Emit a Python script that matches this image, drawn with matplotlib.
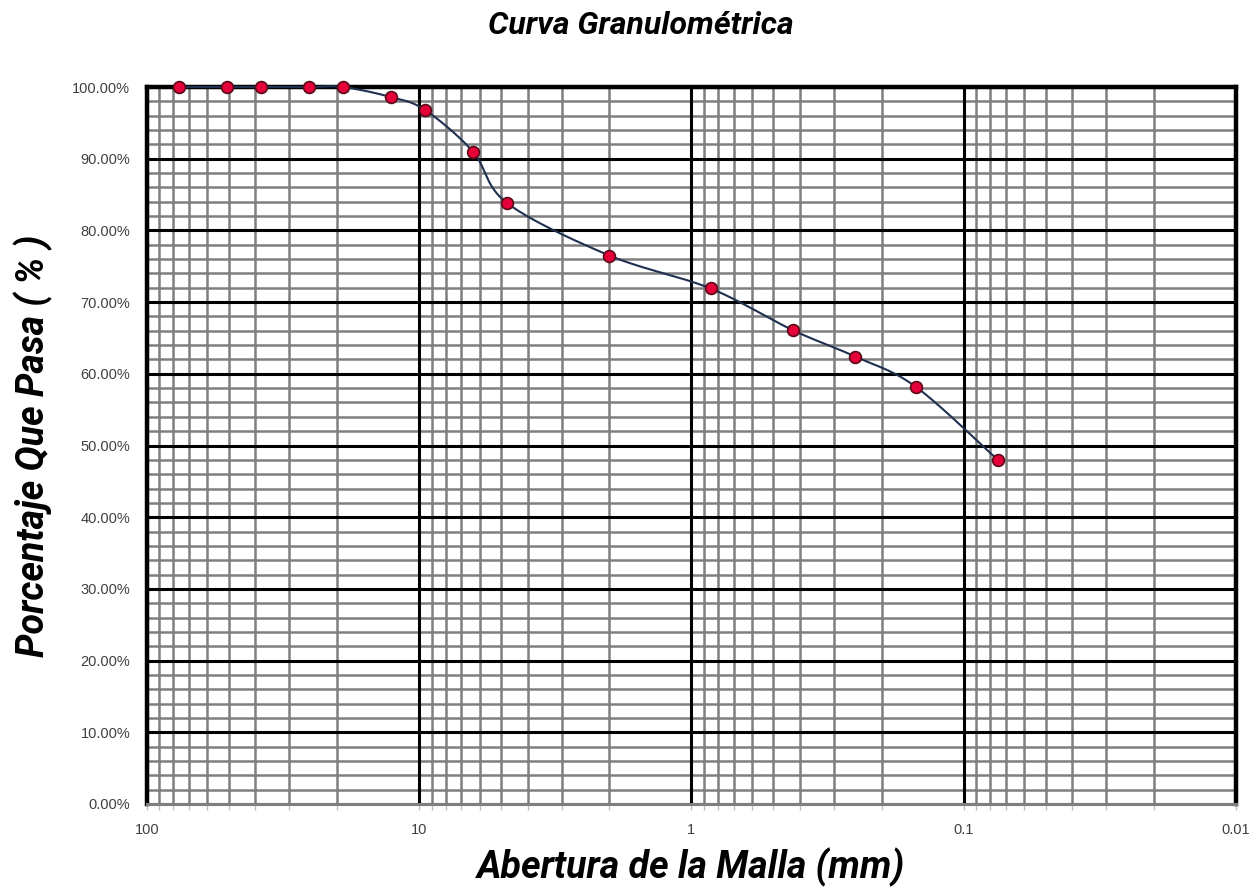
import numpy as np
import matplotlib.pyplot as plt
from matplotlib.ticker import FixedLocator, FuncFormatter, LogLocator, NullFormatter

# Sieve openings (mm) and cumulative percent passing
abertura = [76.2, 50.8, 38.1, 25.4, 19.05, 12.7, 9.525, 6.35, 4.75,
            2.00, 0.85, 0.425, 0.25, 0.15, 0.075]
pasa = [100.0, 100.0, 100.0, 100.0, 100.0, 98.6, 96.8, 91.0, 83.8,
        76.5, 71.9, 66.1, 62.4, 58.2, 48.0]

x_ticks = [100, 10, 1, 0.1, 0.01]
x_tick_labels = ["100", "10", "1", "0.1", "0.01"]
y_major = list(range(0, 101, 10))
y_minor = list(range(0, 101, 2))


def suavizar(xs, ys, n=40):
    # Bezier smoothing (Catmull-Rom style) in log-x / linear-y space
    u = -np.log10(np.array(xs)) * 272.0
    v = -np.array(ys) * 7.17
    pts = np.column_stack([u, v])
    out = [pts[0]]
    for i in range(len(pts) - 1):
        p0 = pts[i - 1] if i > 0 else pts[i]
        p1 = pts[i]
        p2 = pts[i + 1]
        p3 = pts[i + 2] if i + 2 < len(pts) else pts[i + 1]
        c1 = p1 + (p2 - p0) / 6.0
        c2 = p2 - (p3 - p1) / 6.0
        t = np.linspace(0, 1, n)[1:, None]
        seg = ((1 - t) ** 3 * p1 + 3 * (1 - t) ** 2 * t * c1
               + 3 * (1 - t) * t ** 2 * c2 + t ** 3 * p2)
        out.extend(seg)
    out = np.array(out)
    return 10 ** (-out[:, 0] / 272.0), -out[:, 1] / 7.17


fig = plt.figure(figsize=(12.56, 8.88), dpi=100)
ax = fig.add_axes([0.117, 0.0946, 0.867, 0.8074])

ax.set_xscale("log")
ax.set_xlim(100, 0.01)
ax.set_ylim(0, 100)

ax.xaxis.set_major_locator(FixedLocator(x_ticks))
ax.xaxis.set_minor_locator(LogLocator(base=10, subs=np.arange(2, 10)))
ax.xaxis.set_major_formatter(FuncFormatter(
    lambda v, p: x_tick_labels[x_ticks.index(v)] if v in x_ticks else ""))
ax.xaxis.set_minor_formatter(NullFormatter())
ax.yaxis.set_major_locator(FixedLocator(y_major))
ax.yaxis.set_major_formatter(FuncFormatter(lambda v, p: f"{v:.2f}%"))

# grid: grey minor lines first, black decade / 10 % lines on top
for d in x_ticks[1:]:
    for s in range(2, 10):
        ax.axvline(d * s, color="#7f7f7f", lw=1.8, zorder=1)
for yv in y_minor:
    ax.axhline(yv, color="#7f7f7f", lw=1.8, zorder=1)
for xv in x_ticks:
    ax.axvline(xv, color="black", lw=2.2, zorder=1.5)
for yv in y_major:
    ax.axhline(yv, color="black", lw=2.2, zorder=1.5)

for side in ["left", "top", "right"]:
    ax.spines[side].set_color("black")
    ax.spines[side].set_linewidth(3.2)
ax.spines["bottom"].set_color("#7f7f7f")
ax.spines["bottom"].set_linewidth(2.2)
for sp in ax.spines.values():
    sp.set_zorder(2)

ax.tick_params(axis="x", which="both", length=4, color="#bfbfbf", width=1,
               labelsize=10.5, labelcolor="#404040", pad=10)
ax.tick_params(axis="y", which="both", length=0, labelsize=10.5,
               labelcolor="#404040", pad=12)
for lab in ax.get_xticklabels() + ax.get_yticklabels():
    lab.set_family("Liberation Sans")

xs, ys = suavizar(abertura, pasa)
ax.plot(xs, ys, color="#1f3050", lw=1.5, zorder=3, clip_on=False)
ax.plot(abertura, pasa, ls="none", marker="o", ms=8.5, mfc="#e5003a",
        mec="#5a0a18", mew=1.2, zorder=4, clip_on=False)

fig.text(0.51, 0.971, "Curva Granulométrica", ha="center", va="center",
         fontsize=23, fontweight="bold", style="italic", family="Roboto")
ax.set_xlabel("Abertura de la Malla (mm)", fontsize=27, fontweight="bold",
              style="italic", family="Roboto", labelpad=7)
ax.set_ylabel("Porcentaje Que Pasa ( % )", fontsize=27, fontweight="bold",
              style="italic", family="Roboto", labelpad=14)

fig.savefig("out.png", dpi=100, facecolor="white")
